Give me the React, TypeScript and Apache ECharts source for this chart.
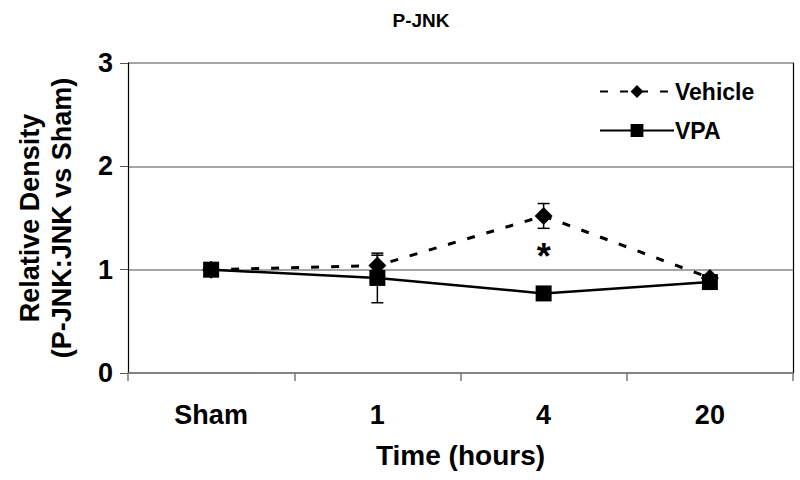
import React, { useEffect, useRef } from "react";
import * as echarts from "echarts";

const categories = ["Sham", "1", "4", "20"];
const vehicle = [1.0, 1.04, 1.52, 0.92];
const vehicleErr = [0, 0.1, 0.12, 0.02];
const vpa = [1.0, 0.92, 0.77, 0.88];
const vpaErr = [0, 0.24, 0.02, 0.02];
const yTicks = [0, 1, 2, 3];
const asterisk = [{ cat: 2, value: 1.13, text: "*" }];

const FONT = "Liberation Sans, Arial, sans-serif";

function errorSeries(name: string, vals: number[], errs: number[]) {
  return {
    type: "custom",
    name: name + "-err",
    silent: true,
    z: 5,
    data: vals.map((v, i) => [i, v - errs[i], v + errs[i]]),
    renderItem: (params: any, api: any) => {
      const x = api.value(0);
      const lo = api.coord([x, api.value(1)]);
      const hi = api.coord([x, api.value(2)]);
      if (Math.abs(hi[1] - lo[1]) < 1) return { type: "group", children: [] };
      const cap = 6;
      const style = { stroke: "#000", lineWidth: 1.5 };
      return {
        type: "group",
        children: [
          { type: "line", shape: { x1: lo[0], y1: lo[1], x2: hi[0], y2: hi[1] }, style },
          { type: "line", shape: { x1: lo[0] - cap, y1: lo[1], x2: lo[0] + cap, y2: lo[1] }, style },
          { type: "line", shape: { x1: hi[0] - cap, y1: hi[1], x2: hi[0] + cap, y2: hi[1] }, style },
        ],
      };
    },
  };
}

export default function App() {
  const ref = useRef<HTMLDivElement>(null);
  useEffect(() => {
    if (!ref.current) return;
    const chart = echarts.init(ref.current, undefined, { renderer: "svg" });
    chart.setOption({
      animation: false,
      backgroundColor: "#fff",
      title: {
        text: "P-JNK",
        left: 416,
        top: 6,
        textAlign: "center",
        textStyle: { fontFamily: FONT, fontSize: 19, fontWeight: "bold", color: "#000" },
      },
      legend: {
        orient: "vertical",
        left: 594,
        top: 75,
        itemWidth: 74,
        itemHeight: 16,
        itemGap: 16,
        textStyle: { fontFamily: FONT, fontSize: 23, fontWeight: "bold", color: "#000", padding: [0, 0, 0, -4] },
        data: ["Vehicle", "VPA"],
      },
      grid: { left: 128, right: 7, top: 63, bottom: 107, containLabel: false },
      xAxis: {
        type: "category",
        data: categories,
        boundaryGap: true,
        name: "Time (hours)",
        nameLocation: "middle",
        nameGap: 68,
        nameTextStyle: { fontFamily: FONT, fontSize: 28, fontWeight: "bold", color: "#000" },
        axisLine: { lineStyle: { color: "#777", width: 1.5 } },
        axisTick: { show: true, length: 8, alignWithLabel: false, lineStyle: { color: "#777", width: 1.5 } },
        axisLabel: { fontFamily: FONT, fontSize: 27, fontWeight: "bold", color: "#000", margin: 28 },
        splitLine: { show: false },
      },
      yAxis: [
        {
          type: "value",
          min: 0,
          max: 3,
          interval: 1,
          name: "Relative Density\n(P-JNK:JNK vs Sham)",
          nameLocation: "middle",
          nameGap: 50,
          nameTextStyle: { fontFamily: FONT, fontSize: 27, fontWeight: "bold", color: "#000", lineHeight: 32 },
          axisLine: { show: true, lineStyle: { color: "#000", width: 1.2 } },
          axisTick: { show: true, length: 8, lineStyle: { color: "#555", width: 1 } },
          axisLabel: {
            fontFamily: FONT,
            fontSize: 27,
            fontWeight: "bold",
            color: "#000",
            margin: 15,
            formatter: (v: number) => (yTicks.includes(v) ? String(v) : ""),
          },
          splitLine: { show: true, lineStyle: { color: "#888", width: 1.5 } },
        },
        {
          type: "value",
          min: 0,
          max: 3,
          interval: 1,
          position: "right",
          axisLine: { show: true, lineStyle: { color: "#000", width: 1.2 } },
          axisTick: { show: false },
          axisLabel: { show: false },
          splitLine: { show: false },
        },
      ],
      series: [
        {
          name: "Vehicle",
          type: "line",
          data: vehicle,
          symbol: "diamond",
          symbolSize: 18,
          z: 4,
          itemStyle: { color: "#000" },
          lineStyle: { color: "#000", width: 3, type: [8, 12] },
        },
        {
          name: "VPA",
          type: "line",
          data: vpa,
          symbol: "rect",
          symbolSize: 16,
          z: 4,
          itemStyle: { color: "#000" },
          lineStyle: { color: "#000", width: 2.5, type: "solid" },
        },
        errorSeries("Vehicle", vehicle, vehicleErr),
        errorSeries("VPA", vpa, vpaErr),
        {
          type: "custom",
          name: "sig",
          silent: true,
          data: asterisk.map((a) => [a.cat, a.value]),
          renderItem: (params: any, api: any) => {
            const p = api.coord([api.value(0), api.value(1)]);
            return {
              type: "text",
              x: p[0],
              y: p[1],
              style: {
                text: asterisk[params.dataIndex].text,
                font: "bold 36px " + FONT,
                fill: "#000",
                align: "center",
                verticalAlign: "middle",
              },
            };
          },
        },
      ],
    });
    return () => chart.dispose();
  }, []);
  return <div ref={ref} style={{ position: "absolute", left: 0, top: 0, width: 800, height: 480 }} />;
}
